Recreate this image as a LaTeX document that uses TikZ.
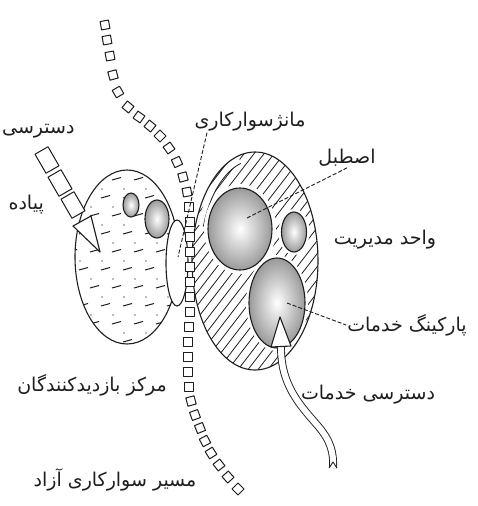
\documentclass[tikz,border=0pt]{standalone}
\usepackage{fontspec}
\usetikzlibrary{positioning,calc}
\newfontfamily\farsi[Script=Arabic]{DejaVu Sans}
\TeXXeTstate=1
\definecolor{cInk}{HTML}{1E1E1E}
\definecolor{cShade}{HTML}{9A9A9A}
\newcommand{\fa}[1]{\beginR #1\endR}

\begin{document}
\begin{tikzpicture}[x=1pt,y=-1pt,line join=round,
    outline/.style={draw=cInk,line width=1.1pt},
    ballfill/.style={outline,inner color=white,outer color=cShade},
    lbl/.style={font=\farsi\fontsize{19}{22}\selectfont,text=cInk,inner sep=1pt},
    leader/.style={draw=cInk,line width=0.9pt,dash pattern=on 4pt off 2pt},
    trailsq/.style={draw=cInk,fill=white,line width=1pt,minimum size=8.5pt,inner sep=0pt},
    walksq/.style={draw=cInk,fill=white,line width=1pt,minimum width=22pt,minimum height=15pt,inner sep=0pt}]
  \useasboundingbox (0,0) rectangle (478,506);

  % visitors centre
  \coordinate (vc) at (127,257);
  \fill[white] (vc) ellipse [x radius=52, y radius=87];
  \begin{scope}
    \clip (vc) ellipse [x radius=52, y radius=87];
    \foreach \r in {0,...,9}
      \foreach \c in {0,...,5} {
        \draw[cInk,line width=1pt] ({68+\c*22+mod(\r,2)*11},{180+\r*18}) -- ++(9,-2.5);
        \fill[cInk!60] ({80+\c*22+mod(\r,2)*11},{189+\r*18}) circle [radius=0.8];
      }
  \end{scope}
  \draw[outline] (vc) ellipse [x radius=52, y radius=87];
  \shade[ballfill] (131,205) ellipse [x radius=8, y radius=12];
  \shade[ballfill] (157,219) ellipse [x radius=12, y radius=19];
  \draw[outline,fill=white] (177,263) ellipse [x radius=11, y radius=43];

  % manege, stable, management, parking
  \coordinate (hc) at (255,261);
  \fill[white] (hc) ellipse [x radius=63, y radius=109];
  \begin{scope}
    \clip (hc) ellipse [x radius=63, y radius=109];
    \foreach \k in {0,...,30}
      \draw[cInk,line width=0.8pt] ({20+\k*10},380) -- ++(200,-260);
  \end{scope}
  \draw[white,line width=5pt] (hc) ++(200:58 and 104) arc [start angle=200,end angle=255,x radius=58,y radius=104];
  \draw[cInk,line width=0.8pt] (hc) ++(200:55 and 101) arc [start angle=200,end angle=255,x radius=55,y radius=101];
  \fill[white] (240,229) ellipse [x radius=36, y radius=45];
  \fill[white] (294,232) ellipse [x radius=15.5, y radius=23];
  \fill[white] (277,303) ellipse [x radius=31, y radius=48];
  \draw[outline] (hc) ellipse [x radius=63, y radius=109];
  \shade[ballfill] (240,229) ellipse [x radius=32, y radius=41];
  \shade[ballfill] (294,232) ellipse [x radius=12.5, y radius=20];
  \shade[ballfill] (277,303) ellipse [x radius=28, y radius=45];

  % riding trail
  \foreach \px/\py/\rot in {105/25/10, 107/40/10, 110/56/10, 113/75/15, 118/92/30,
      128/107/50, 139/117/55, 150/126/50, 160/136/45, 169/148/35, 177/162/25, 183/177/15,
      187/192/10, 189/207/0, 190/222/0, 190/237/0, 190/252/0, 190/267/0, 190/282/0,
      190/297/0, 190/312/0, 189/327/0, 188/342/0, 188/357/0, 188/372/0, 189/387/0,
      191/401/15, 195/415/20, 200/428/22, 205/441/28, 211/453/32, 219/465/38,
      228/477/42, 238/489/45}
    \node[trailsq,rotate=\rot] at (\px,\py) {};

  % walking access
  \node[walksq,rotate=-60] (walk1) at (47,160) {};
  \node[walksq,rotate=-60] (walk2) at (60,183) {};
  \node[walksq,rotate=-60] (walk3) at (73,205) {};
  \draw[outline,fill=white] (91,216) -- (100,252) -- (73,226) -- cycle;

  % service access
  \coordinate (svtail) at (333,468);
  \draw[cInk,line width=0.9pt,double=white,double distance=6pt] (281,344) .. controls (280,385) and (300,405) .. (318,426) .. controls (330,440) and (334,452) .. (svtail);
  \draw[cInk,line width=0.9pt] ($(svtail)+(-3.9,0)$) -- ($(svtail)+(0,-6)$) -- ($(svtail)+(3.9,0)$);
  \draw[outline,fill=white] (280,317) -- (291,346) -- (271,347) -- cycle;

  % labels
  \node[lbl,anchor=west] (walklbl1) at (1,131) {\fa{دسترسی}};
  \node[lbl,anchor=east] (walklbl2) at (45,205) {\fa{پیاده}};
  \node[lbl] (manegelbl) at (250,122) {\fa{مانژسوارکاری}};
  \node[lbl] (stablelbl) at (347,158) {\fa{اصطبل}};
  \node[lbl] (mgmtlbl) at (385,240) {\fa{واحد مدیریت}};
  \node[lbl] (parklbl) at (407,325) {\fa{پارکینگ خدمات}};
  \node[lbl] (servlbl) at (368,395) {\fa{دسترسی خدمات}};
  \node[lbl] (visitlbl) at (92,385) {\fa{مرکز بازدیدکنندگان}};
  \node[lbl] (ridelbl) at (115,480) {\fa{مسیر سوارکاری آزاد}};

  % leaders
  \coordinate (stablept) at (247,218);
  \coordinate (parkpt) at (287,303);
  \coordinate (manegept) at (178,257);
  \draw[leader] (stablept) -- (stablelbl.south);
  \draw[leader] (parkpt) -- (parklbl.west);
  \draw[leader] ($(manegelbl.south west)!0.12!(manegelbl.south east)$) -- (manegept);
\end{tikzpicture}
\end{document}
